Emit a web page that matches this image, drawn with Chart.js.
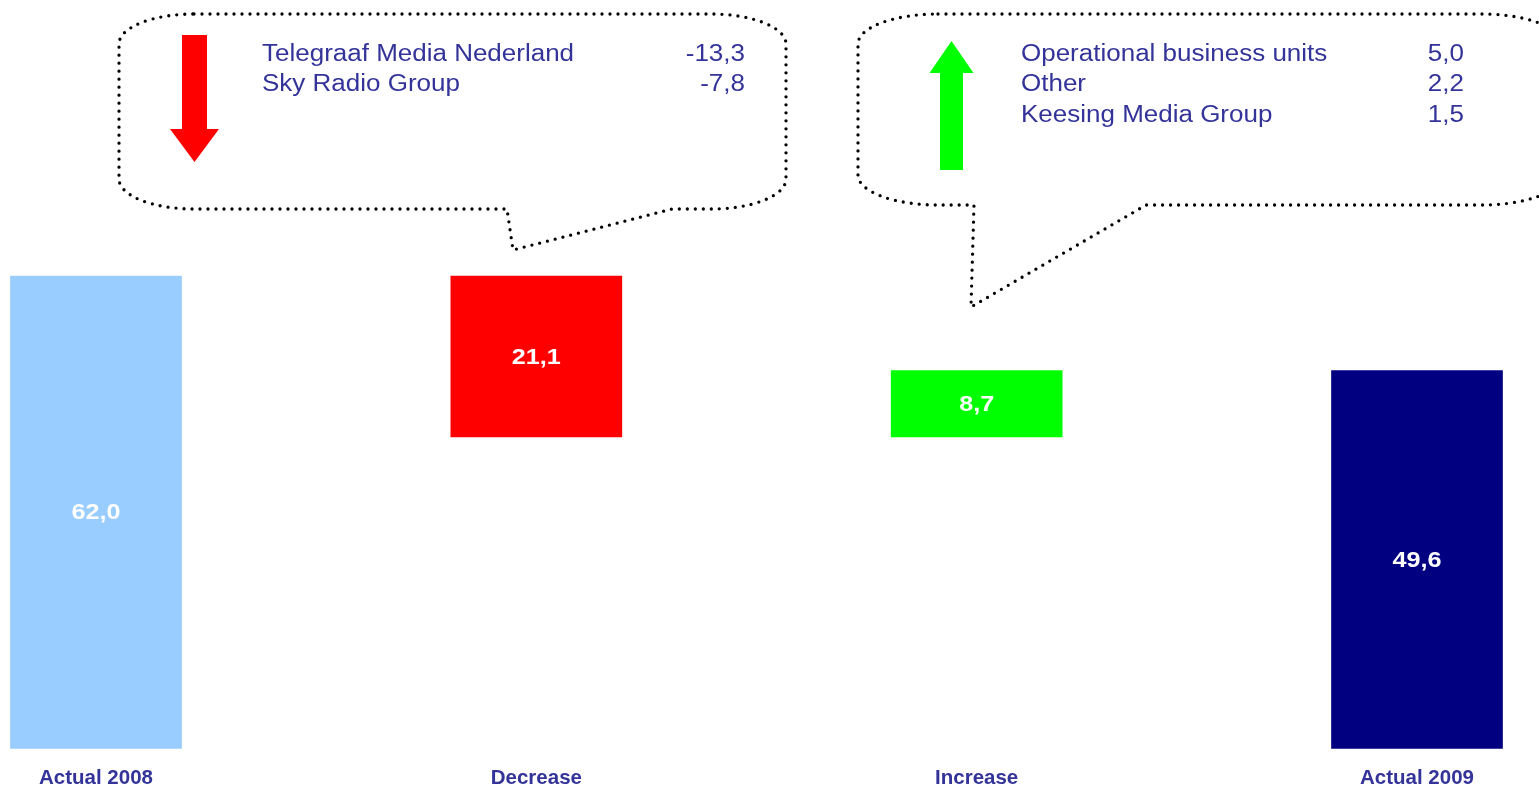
<!DOCTYPE html>
<html>
<head>
<meta charset="utf-8">
<script src="https://cdn.jsdelivr.net/npm/chart.js@4.4.1/dist/chart.umd.min.js"></script>
<style>
  html, body { margin: 0; padding: 0; background: #fff; }
  #wrap { width: 1539px; height: 788px; position: relative; overflow: hidden; }
</style>
</head>
<body>
<div id="wrap"><canvas id="chart"></canvas></div>
<script>
'use strict';

const categories = ['Actual 2008', 'Decrease', 'Increase', 'Actual 2009'];
const amounts = [62.0, 21.1, 8.7, 49.6];
const steps = ['total', 'down', 'up', 'total'];

const downNames = ['Telegraaf Media Nederland', 'Sky Radio Group'];
const downValues = [-13.3, -7.8];
const upNames = ['Operational business units', 'Other', 'Keesing Media Group'];
const upValues = [5.0, 2.2, 1.5];

const BLUE = '#333399';
const FONT = 'Arial, "Liberation Sans", sans-serif';

function fmt(v) {
  return v.toFixed(1).replace('.', ',');
}

// waterfall: each bar floats from the running level
const ranges = [];
let level = 0;
steps.forEach((s, i) => {
  const a = amounts[i];
  if (s === 'total') { ranges.push([0, a]); level = a; }
  else if (s === 'down') { ranges.push([level, level - a]); level -= a; }
  else { ranges.push([level, level + a]); level += a; }
});

function stretched(ctx, text, x, y, align, sx) {
  ctx.save();
  ctx.translate(x, y);
  ctx.scale(sx, 1);
  ctx.textAlign = align;
  ctx.fillText(text, 0, 0);
  ctx.restore();
}

// value in the middle of every bar
const barLabels = {
  id: 'barLabels',
  afterDatasetsDraw(chart) {
    const ctx = chart.ctx;
    const meta = chart.getDatasetMeta(0);
    ctx.save();
    ctx.fillStyle = '#fff';
    ctx.font = 'bold 22.5px ' + FONT;
    ctx.textBaseline = 'middle';
    meta.data.forEach((bar, i) => {
      stretched(ctx, fmt(amounts[i]), bar.x, (bar.y + bar.base) / 2 + 1, 'center', 1.12);
    });
    ctx.restore();
  }
};

function bubble(ctx, b) {
  const t = b.tail;
  ctx.beginPath();
  ctx.moveTo(b.x0 + b.rx, b.y0);
  ctx.ellipse(b.x1 - b.rx, b.y0 + b.ry, b.rx, b.ry, 0, -Math.PI / 2, 0);
  ctx.ellipse(b.x1 - b.rx, b.y1 - b.ry, b.rx, b.ry, 0, 0, Math.PI / 2);
  ctx.lineTo(t.right, b.y1);
  ctx.lineTo(t.tipX, t.tipY);
  ctx.lineTo(t.left, b.y1);
  ctx.ellipse(b.x0 + b.rx, b.y1 - b.ry, b.rx, b.ry, 0, Math.PI / 2, Math.PI);
  ctx.ellipse(b.x0 + b.rx, b.y0 + b.ry, b.rx, b.ry, 0, Math.PI, Math.PI * 1.5);
  ctx.closePath();
  ctx.save();
  ctx.strokeStyle = '#000';
  ctx.lineWidth = 3.3;
  ctx.lineCap = 'round';
  ctx.setLineDash([0, 8]);
  ctx.stroke();
  ctx.restore();
}

function arrow(ctx, cx, sw, hw, yStart, yHead, yTip, color) {
  ctx.beginPath();
  ctx.moveTo(cx - sw / 2, yStart);
  ctx.lineTo(cx + sw / 2, yStart);
  ctx.lineTo(cx + sw / 2, yHead);
  ctx.lineTo(cx + hw / 2, yHead);
  ctx.lineTo(cx, yTip);
  ctx.lineTo(cx - hw / 2, yHead);
  ctx.lineTo(cx - sw / 2, yHead);
  ctx.closePath();
  ctx.fillStyle = color;
  ctx.fill();
}

function itemList(ctx, names, values, xl, xr, y, step) {
  ctx.save();
  ctx.fillStyle = BLUE;
  ctx.font = '23px ' + FONT;
  ctx.textBaseline = 'alphabetic';
  names.forEach((n, i) => {
    stretched(ctx, n, xl, y + i * step, 'left', 1.13);
    stretched(ctx, fmt(values[i]), xr, y + i * step, 'right', 1.13);
  });
  ctx.restore();
}

const callouts = {
  id: 'callouts',
  afterDraw(chart) {
    const ctx = chart.ctx;
    bubble(ctx, {x0: 119, y0: 14, x1: 786, y1: 209, rx: 75, ry: 30,
      tail: {left: 507, tipX: 513, tipY: 250, right: 672}});
    bubble(ctx, {x0: 858, y0: 14, x1: 1562, y1: 205, rx: 80, ry: 30,
      tail: {left: 974, tipX: 971, tipY: 307, right: 1146}});
    arrow(ctx, 194.5, 25, 49, 35, 129, 162, '#FF0000');
    arrow(ctx, 951.5, 23, 44, 170, 73, 41, '#00FF00');
    itemList(ctx, downNames, downValues, 262, 745, 61, 30.3);
    itemList(ctx, upNames, upValues, 1021, 1464, 61, 30.4);
  }
};

new Chart(document.getElementById('chart'), {
  type: 'bar',
  data: {
    labels: categories,
    datasets: [{
      data: ranges,
      backgroundColor: ['#99CCFF', '#FF0000', '#00FF00', '#000080'],
      borderWidth: 0,
      barThickness: 171,
      clip: false
    }]
  },
  options: {
    responsive: true,
    maintainAspectRatio: false,
    animation: false,
    layout: { padding: { top: 276, left: 96, right: 122, bottom: 1.5 } },
    plugins: {
      legend: { display: false },
      tooltip: { enabled: false }
    },
    scales: {
      x: {
        offset: false,
        grid: { display: false, drawTicks: false },
        border: { display: false },
        afterFit(scale) { scale.height = 38; },
        ticks: {
          color: BLUE,
          padding: 20,
          maxRotation: 0,
          autoSkip: false,
          font: { family: FONT, size: 20.5, weight: 'bold', lineHeight: 1 }
        }
      },
      y: { display: false, min: 0, max: 62 }
    }
  },
  plugins: [barLabels, callouts]
});
</script>
</body>
</html>
